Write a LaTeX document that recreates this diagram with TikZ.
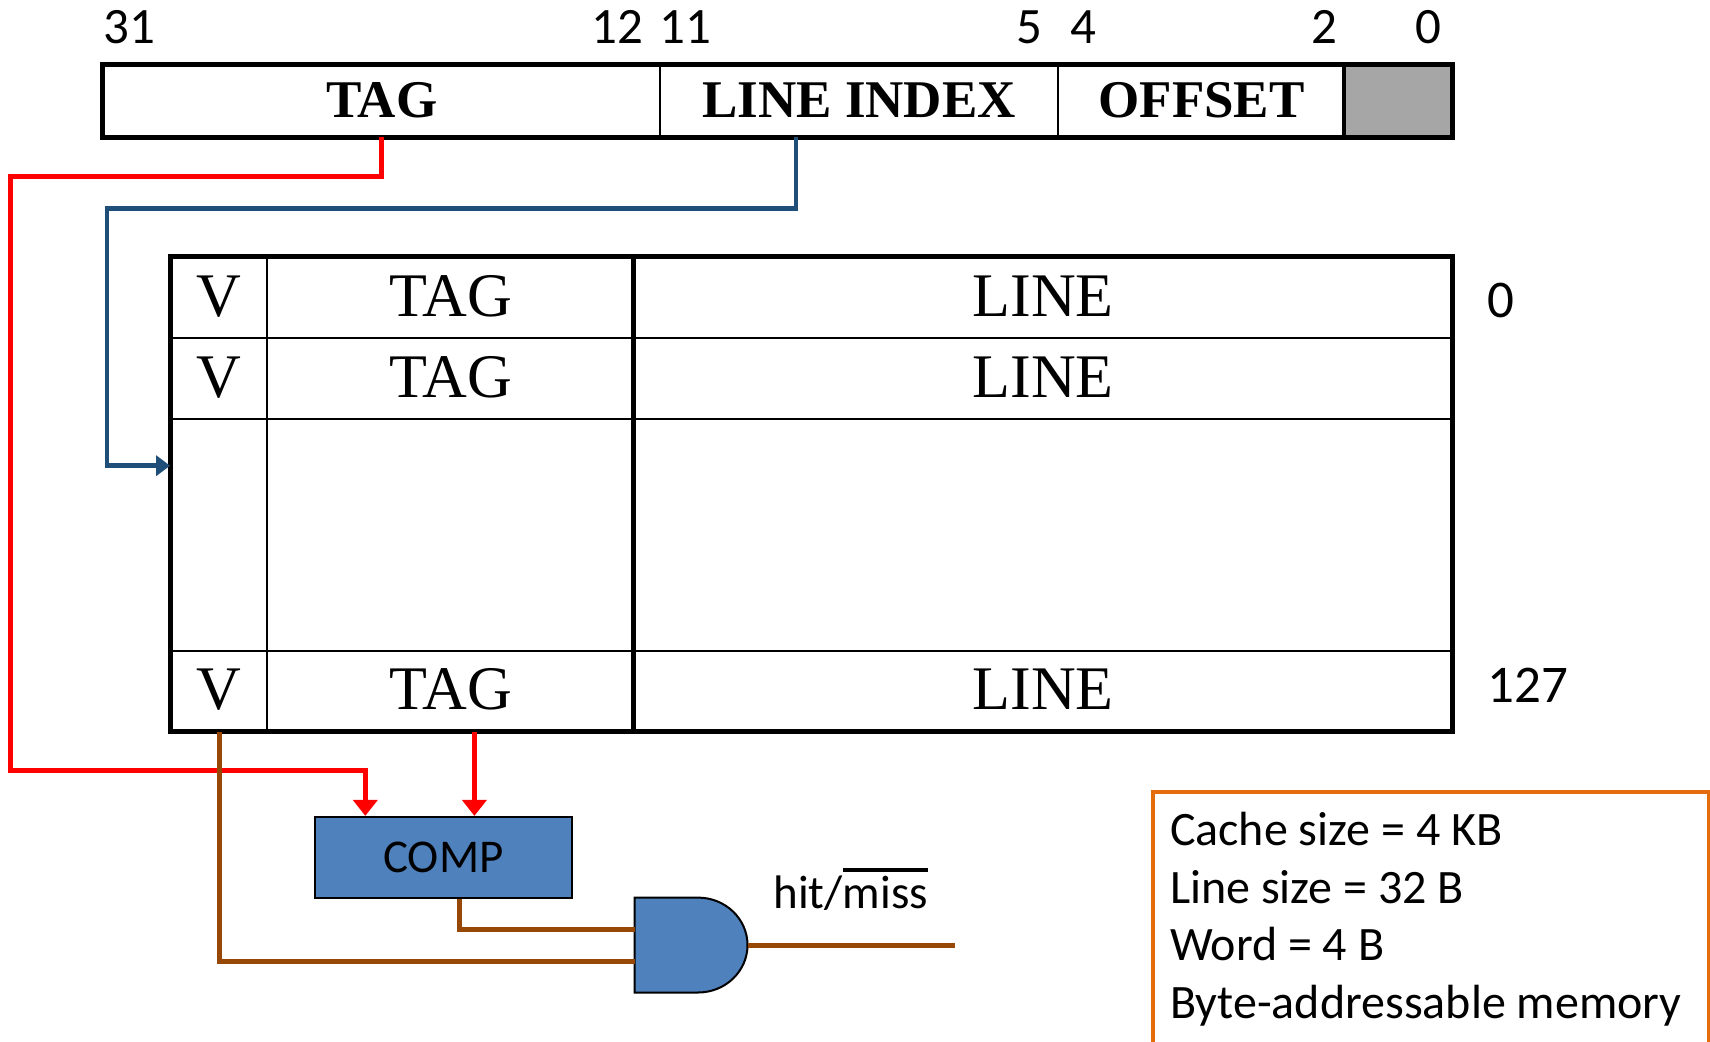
\documentclass[tikz,border=0pt]{standalone}
\usepackage{fontspec}
\setmainfont{Liberation Serif}
\newfontfamily\calfont{Carlito}
\usetikzlibrary{arrows.meta,calc}
\definecolor{wirered}{HTML}{FF0000}
\definecolor{wireblue}{HTML}{1F4E79}
\definecolor{wirebrown}{HTML}{974806}
\definecolor{compblue}{HTML}{4F81BD}
\definecolor{boxorange}{HTML}{E46C0A}
\definecolor{graybox}{HTML}{A6A6A6}
\newcommand{\myoverline}[1]{\vbox{\hrule height 4pt \kern 4pt \hbox{#1}}}
\begin{document}
\begin{tikzpicture}[x=1pt,y=-1pt,
  field/.style={draw=black, line width=2pt, minimum height=70.9pt, inner sep=0pt,
    font=\fontsize{53}{60}\selectfont\bfseries},
  bitnum/.style={inner sep=0pt, font=\calfont\fontsize{51}{60}\selectfont},
  cell/.style={draw=black, line width=2.2pt, inner sep=0pt,
    font=\fontsize{62}{70}\selectfont},
  rowlab/.style={inner sep=0pt, font=\calfont\fontsize{53}{60}\selectfont},
  redwire/.style={draw=wirered, line width=5pt, -{Triangle[length=16pt,width=24pt]}},
  bluewire/.style={draw=wireblue, line width=4.5pt, -{Triangle[length=14pt,width=20pt]}},
  brownwire/.style={draw=wirebrown, line width=5pt},
  compbox/.style={draw=black, line width=2pt, fill=compblue, inner sep=0pt,
    font=\calfont\fontsize{47}{56}\selectfont},
  infobox/.style={draw=boxorange, line width=4pt, align=flush left, inner xsep=17.5pt,
    inner ysep=21pt, text width=521pt, font=\calfont\fontsize{48}{57.4}\selectfont},
  lbl/.style={inner sep=0pt, font=\calfont\fontsize{47}{56}\selectfont}
]
\useasboundingbox (0,0) rectangle (1710,1041);

% address fields
\node[field, minimum width=556.4pt] (atag) at (381.8,100.85) {\raisebox{2pt}{TAG}};
\node[field, minimum width=398pt] (aidx) at (859,100.85) {\raisebox{2pt}{LINE INDEX}};
\node[field, minimum width=287pt] (aoff) at (1201.5,100.85) {\raisebox{2pt}{OFFSET}};
\node[field, fill=graybox, minimum width=106.6pt] (agray) at (1398.3,100.85) {};
\draw[line width=5pt] (atag.north west) rectangle (agray.south east);
\draw[line width=4pt] (agray.north west) -- (agray.south west);

% bit numbers
\node[bitnum] (n31) at (129,27) {31};
\node[bitnum] (n12) at (617,27) {12};
\node[bitnum] (n11) at (685,27) {11};
\node[bitnum] (n5) at (1029.5,27) {5};
\node[bitnum] (n4) at (1083.5,27) {4};
\node[bitnum] (n2) at (1324,27) {2};
\node[bitnum] (n0) at (1428.7,27) {0};

% cache table
\node[cell, minimum width=96pt, minimum height=80.7pt] (v1) at (219.2,297.75) {\raisebox{3pt}{V}};
\node[cell, minimum width=367.5pt, minimum height=80.7pt] (t1) at (450.95,297.75) {\raisebox{3pt}{TAG}};
\node[cell, minimum width=816.9pt, minimum height=80.7pt] (l1) at (1043.15,297.75) {\raisebox{3pt}{LINE}};
\node[cell, minimum width=96pt, minimum height=80.7pt] (v2) at (219.2,378.45) {\raisebox{3pt}{V}};
\node[cell, minimum width=367.5pt, minimum height=80.7pt] (t2) at (450.95,378.45) {\raisebox{3pt}{TAG}};
\node[cell, minimum width=816.9pt, minimum height=80.7pt] (l2) at (1043.15,378.45) {\raisebox{3pt}{LINE}};
\node[cell, minimum width=96pt, minimum height=232.3pt] (vg) at (219.2,534.95) {};
\node[cell, minimum width=367.5pt, minimum height=232.3pt] (tg) at (450.95,534.95) {};
\node[cell, minimum width=816.9pt, minimum height=232.3pt] (lg) at (1043.15,534.95) {};
\node[cell, minimum width=96pt, minimum height=79.6pt] (v3) at (219.2,690.9) {\raisebox{3pt}{V}};
\node[cell, minimum width=367.5pt, minimum height=79.6pt] (t3) at (450.95,690.9) {\raisebox{3pt}{TAG}};
\node[cell, minimum width=816.9pt, minimum height=79.6pt] (l3) at (1043.15,690.9) {\raisebox{3pt}{LINE}};
\draw[line width=5pt] (v1.north west) rectangle (l3.south east);
\draw[line width=5pt] (l1.north west) -- (l3.south west);

\node[rowlab] (row0) at (1500.7,300) {0};
\node[rowlab] (row127) at (1528,685) {127};

% comparator
\node[compbox, minimum width=256.3pt, minimum height=80.7pt] (comp) at (443.35,857.25) {COMP};

% AND gate
\draw[line width=2pt, fill=compblue] (634.7,897.6) -- (698,897.6)
  arc[start angle=-90, end angle=90, x radius=49.5, y radius=47.45]
  -- (634.7,992.5) -- cycle;
\coordinate (gin1) at (634.7,929.2);
\coordinate (gin2) at (634.7,961.9);
\coordinate (gout) at (747.5,945.05);
\coordinate (wend) at (955.4,945.05);

% red wires
\coordinate (r1) at (10.9,176.7);
\coordinate (r2) at (365.3,770);
\draw[redwire] (atag.south) |- (r1) |- (r2) -- (r2 |- comp.north);
\coordinate (rt) at ([xshift=23.45pt]t3.south);
\draw[redwire] (rt) -- (rt |- comp.north);

% blue wire
\coordinate (bs) at ([xshift=-63pt]aidx.south);
\coordinate (b1) at (106.9,208.3);
\coordinate (b2) at (106.9,465.7);
\draw[bluewire] (bs) |- (b1) -- (b2) -- (b2 -| v1.west);

% brown wires
\draw[brownwire] (v3.south) |- (gin2);
\coordinate (cb) at ([xshift=15.65pt]comp.south);
\draw[brownwire] (cb) |- (gin1);
\draw[brownwire] (gout) -- (wend);

\node[lbl, anchor=base west] (hm) at (773.3,908.5) {hit/\myoverline{miss}};

% info box
\node[infobox, anchor=north west] (info) at (1150.6,789.6)
  {Cache size = 4 KB\\Line size = 32 B\\Word = 4 B\\Byte-addressable memory};
\end{tikzpicture}
\end{document}
